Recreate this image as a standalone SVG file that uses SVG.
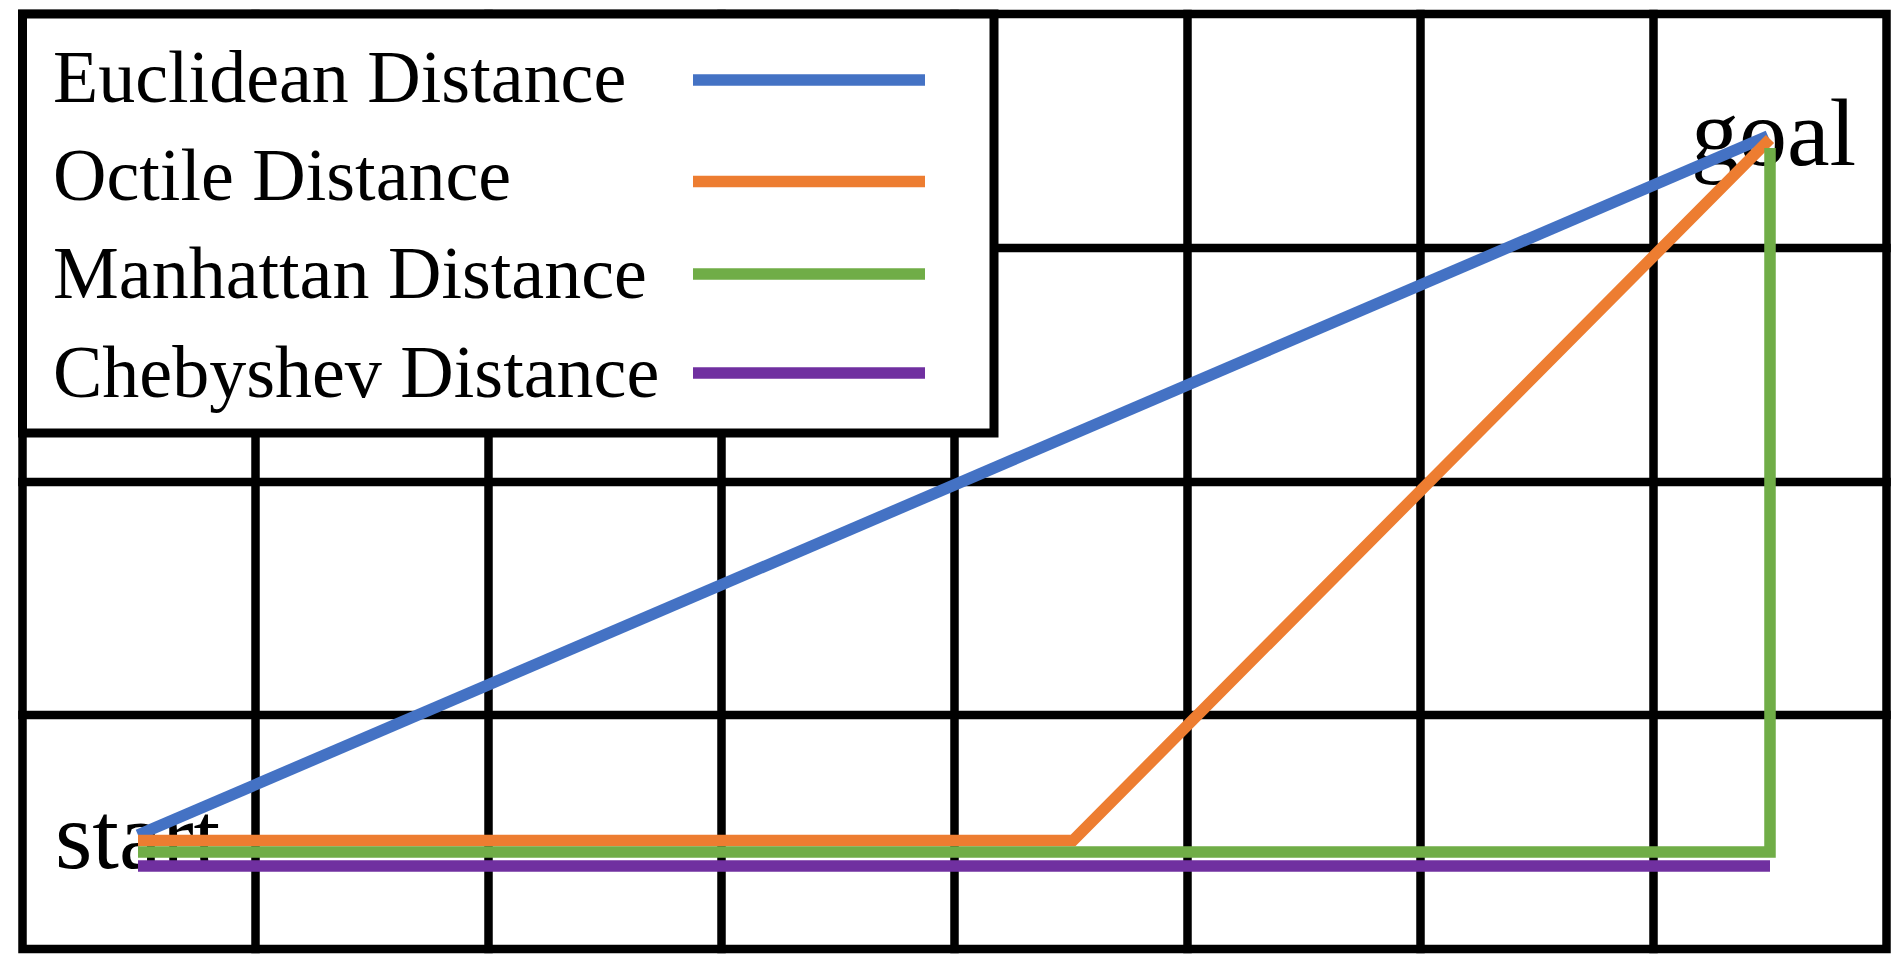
<svg xmlns="http://www.w3.org/2000/svg" width="1901" height="963" viewBox="0 0 1901 963">
<style>
.grid{stroke:#000;stroke-width:8.5;fill:none;stroke-linecap:square}
.lbl{font-family:"Liberation Serif","Times New Roman",serif;font-size:74px;fill:#000}
.pt{font-family:"Liberation Serif","Times New Roman",serif;font-size:96px;fill:#000}
.path{fill:none;stroke-width:11.5;stroke-linejoin:miter;stroke-linecap:butt}
.eu{stroke:#4472C4}.oc{stroke:#ED7D31}.ma{stroke:#70AD47}.ch{stroke:#7030A0}
</style>
<rect width="1901" height="963" fill="#fff"/>
<g id="grid">
<rect class="grid" x="22.5" y="14" width="1864" height="935"/>
<path class="grid" d="M255.5 14V949M488.5 14V949M721.5 14V949M954.5 14V949M1187.5 14V949M1420.5 14V949M1653.5 14V949M22.5 248H1886.5M22.5 482H1886.5M22.5 715H1886.5"/>
</g>
<g id="start"><text class="pt" x="55" y="868">start</text></g>
<g id="goal"><text class="pt" x="1691" y="165">goal</text></g>
<g id="connectors">
<path class="path eu" d="M138 835L1768 136"/>
<path class="path oc" d="M138 840.5H1073L1770 139"/>
<path class="path ma" d="M138 852H1770V148"/>
<path class="path ch" d="M138 866H1770"/>
</g>
<g id="legend">
<rect x="22.5" y="14" width="971.5" height="419" fill="#fff" stroke="#000" stroke-width="9"/>
<text class="lbl" x="53" y="102">Euclidean Distance</text>
<text class="lbl" x="53" y="200">Octile Distance</text>
<text class="lbl" x="53" y="298">Manhattan Distance</text>
<text class="lbl" x="53" y="397">Chebyshev Distance</text>
<line class="path eu" x1="693" y1="80" x2="925" y2="80"/>
<line class="path oc" x1="693" y1="181.5" x2="925" y2="181.5"/>
<line class="path ma" x1="693" y1="274" x2="925" y2="274"/>
<line class="path ch" x1="693" y1="373" x2="925" y2="373"/>
</g>
</svg>
